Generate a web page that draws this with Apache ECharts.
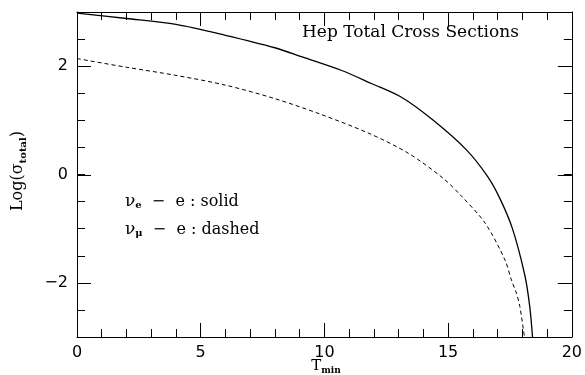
<!DOCTYPE html>
<html>
<head>
<meta charset="utf-8">
<script src="https://cdn.jsdelivr.net/npm/echarts@6/dist/echarts.min.js"></script>
<style>
  html, body { margin: 0; padding: 0; background: #fff; }
  #chart { width: 585px; height: 375px; }
</style>
</head>
<body>
<div id="chart"></div>
<script>
// Total cross section (log scale) versus minimum recoil energy T_min
const tMinSolid = [0, 2, 4, 6, 8, 9.1, 10.7, 11.9, 13.1, 14.4, 15.75, 16.6, 17.1, 17.6, 18.1, 18.3, 18.42];
const logSigmaSolid = [2.98, 2.88, 2.77, 2.57, 2.34, 2.17, 1.92, 1.68, 1.43, 1.0, 0.45, -0.04, -0.45, -1.0, -1.86, -2.44, -3.05];

const tMinDashed = [0, 2, 4, 6, 8, 9.8, 11.8, 13.4, 14.8, 15.5, 16.5, 17.3, 17.56, 17.76, 17.9, 18.1];
const logSigmaDashed = [2.14, 1.98, 1.83, 1.65, 1.40, 1.12, 0.76, 0.39, -0.07, -0.38, -0.9, -1.58, -1.95, -2.19, -2.44, -3.05];

const xTicks = [0, 5, 10, 15, 20];
const yMajorTicks = [-2, 0, 2];

const serif = "'DejaVu Serif', serif";
const sans = "'DejaVu Sans', sans-serif";

const chart = echarts.init(document.getElementById('chart'), null, { renderer: 'canvas' });

const lineStyleAxis = { color: '#000', width: 1 };

function xAxisDef(position, showLabels) {
  return {
    type: 'value', position: position, min: xTicks[0], max: xTicks[xTicks.length - 1], interval: 5,
    axisLine: { show: true, onZero: false, lineStyle: lineStyleAxis },
    axisTick: { show: true, inside: true, length: 14, lineStyle: lineStyleAxis },
    minorTick: { show: true, splitNumber: 5, length: 8, lineStyle: lineStyleAxis },
    axisLabel: { show: showLabels, color: '#000', fontFamily: sans, fontSize: 16, margin: 8 },
    splitLine: { show: false }, minorSplitLine: { show: false }
  };
}

// Short ticks every 0.5; labels only on the major values
function yAxisDef(position, showLabels) {
  return {
    type: 'value', position: position, min: -3, max: 3, interval: 0.5,
    axisLine: { show: true, onZero: false, lineStyle: lineStyleAxis },
    axisTick: { show: true, inside: true, length: 8, lineStyle: lineStyleAxis },
    axisLabel: {
      show: showLabels, color: '#000', fontFamily: sans, fontSize: 16, margin: 9,
      formatter: v => (yMajorTicks.indexOf(v) < 0 ? '' : (v < 0 ? '\u2212' + Math.abs(v) : String(v)))
    },
    splitLine: { show: false }
  };
}

// Long ticks at the major y values, drawn on both vertical frame edges
function renderMajorTick(params, api) {
  const v = api.value(0);
  const left = api.coord([xTicks[0], v]);
  const right = api.coord([xTicks[xTicks.length - 1], v]);
  const style = { stroke: '#000', lineWidth: 1 };
  return {
    type: 'group',
    children: [
      { type: 'line', shape: { x1: left[0], y1: Math.round(left[1]) + 0.5, x2: left[0] + 14, y2: Math.round(left[1]) + 0.5 }, style: style },
      { type: 'line', shape: { x1: right[0], y1: Math.round(right[1]) + 0.5, x2: right[0] - 14, y2: Math.round(right[1]) + 0.5 }, style: style }
    ]
  };
}

const richLegend = {
  g: { fontFamily: serif, fontSize: 17, lineHeight: 22, verticalAlign: 'middle' },
  s: { fontFamily: serif, fontSize: 10, fontWeight: 'bold', lineHeight: 22, verticalAlign: 'bottom', padding: [0, 0, 2, 0] },
  t: { fontFamily: serif, fontSize: 16, lineHeight: 22, verticalAlign: 'middle' }
};

chart.setOption({
  animation: false,
  backgroundColor: '#fff',
  grid: { left: 77, right: 9, top: 12, bottom: 38, containLabel: false },
  xAxis: [xAxisDef('bottom', true), xAxisDef('top', false)],
  yAxis: [yAxisDef('left', true), yAxisDef('right', false)],
  series: [
    {
      name: 'nu_e - e', type: 'line', xAxisIndex: 0, yAxisIndex: 0, showSymbol: false, clip: true,
      smooth: 0.3,
      data: tMinSolid.map((t, i) => [t, logSigmaSolid[i]]),
      lineStyle: { color: '#000', width: 1.3, type: 'solid' }
    },
    {
      name: 'nu_mu - e', type: 'line', xAxisIndex: 0, yAxisIndex: 0, showSymbol: false, clip: true,
      smooth: 0.3,
      data: tMinDashed.map((t, i) => [t, logSigmaDashed[i]]),
      lineStyle: { color: '#000', width: 1, type: [4, 3] }
    },
    {
      name: 'major y ticks', type: 'custom', xAxisIndex: 0, yAxisIndex: 0, silent: true, clip: false,
      encode: { y: 0 },
      data: yMajorTicks.map(v => [v]),
      renderItem: renderMajorTick
    }
  ],
  graphic: [
    {
      type: 'text', left: 302, top: 24,
      style: { text: 'Hep Total Cross Sections', fill: '#000', font: '17px ' + serif }
    },
    {
      type: 'text', left: 125, top: 193,
      style: { text: '{g|\u03bd}{s|e}{t|  \u2212  e : solid}', fill: '#000', rich: richLegend }
    },
    {
      type: 'text', left: 125, top: 221,
      style: { text: '{g|\u03bd}{s|\u03bc}{t|  \u2212  e : dashed}', fill: '#000', rich: richLegend }
    },
    {
      type: 'text', x: 18, y: 171, rotation: Math.PI / 2,
      style: {
        text: '{t|Log(\u03c3}{s|total}{t|)}', fill: '#000', align: 'center', verticalAlign: 'middle',
        rich: {
          t: { fontFamily: serif, fontSize: 16, lineHeight: 22, verticalAlign: 'middle' },
          s: { fontFamily: serif, fontSize: 10, fontWeight: 'bold', lineHeight: 22, verticalAlign: 'bottom', padding: [0, 0, 1, 0] }
        }
      }
    },
    {
      type: 'text', x: 326, y: 366,
      style: {
        text: '{t|T}{s|min}', fill: '#000', align: 'center', verticalAlign: 'middle',
        rich: {
          t: { fontFamily: serif, fontSize: 15, lineHeight: 18, verticalAlign: 'middle' },
          s: { fontFamily: serif, fontSize: 9, fontWeight: 'bold', lineHeight: 18, verticalAlign: 'bottom' }
        }
      }
    }
  ]
});
</script>
</body>
</html>
